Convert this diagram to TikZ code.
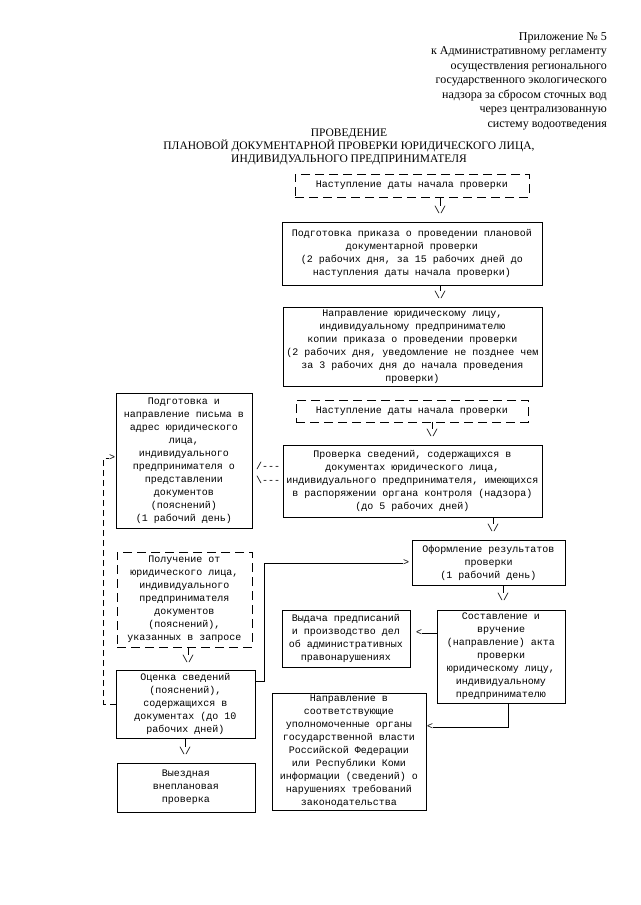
\documentclass[tikz,border=0pt]{standalone}
\usepackage{fontspec}
\setmainfont{Liberation Serif}
\newfontfamily\monofam{Liberation Mono}
\begin{document}
\begin{tikzpicture}[x=1pt,y=-1pt,
  box/.style={draw, line width=0.9pt, inner sep=0pt, align=center, font=\monofam\fontsize{10}{13}\selectfont},
  dbox/.style={box, dash pattern=on 9pt off 5pt},
  ah/.style={inner sep=0pt, font=\monofam\fontsize{10}{13}\selectfont},
  conn/.style={line width=0.9pt},
  dconn/.style={line width=0.9pt, dash pattern=on 6pt off 4pt}]
\fill[white] (0,0) rectangle (640,905);
\useasboundingbox (0,0) rectangle (640,905);

\node[anchor=north east, align=right, inner sep=0pt, font=\fontsize{12}{14.5}\selectfont] (hdr) at (607,32)
  {Приложение № 5\\к Административному регламенту\\осуществления регионального\\государственного экологического\\надзора за сбросом сточных вод\\через централизованную\\систему водоотведения};

\node[anchor=north, align=center, inner sep=0pt, font=\fontsize{11.5}{13}\selectfont] (ttl) at (349,129)
  {ПРОВЕДЕНИЕ\\ПЛАНОВОЙ ДОКУМЕНТАРНОЙ ПРОВЕРКИ ЮРИДИЧЕСКОГО ЛИЦА,\\ИНДИВИДУАЛЬНОГО ПРЕДПРИНИМАТЕЛЯ};

% boxes
\node[dbox, minimum width=234, minimum height=23] (b1) at (412,185.5) {Наступление даты начала проверки};
\node[box, minimum width=260, minimum height=63] (b2) at (412,253.5)
  {Подготовка приказа о проведении плановой\\документарной проверки\\(2 рабочих дня, за 15 рабочих дней до\\наступления даты начала проверки)};
\node[box, minimum width=259, minimum height=79] (b3) at (412.5,346.5)
  {Направление юридическому лицу,\\индивидуальному предпринимателю\\копии приказа о проведении проверки\\(2 рабочих дня, уведомление не позднее чем\\за 3 рабочих дня до начала проведения\\проверки)};
\node[dbox, minimum width=232, minimum height=22] (b4) at (412,411) {Наступление даты начала проверки};
\node[box, minimum width=259, minimum height=72] (b5) at (412.5,481)
  {Проверка сведений, содержащихся в\\документах юридического лица,\\индивидуального предпринимателя, имеющихся\\в распоряжении органа контроля (надзора)\\(до 5 рабочих дней)};
\node[box, minimum width=136, minimum height=135] (b6) at (184,460.5)
  {Подготовка и\\направление письма в\\адрес юридического\\лица,\\индивидуального\\предпринимателя о\\представлении\\документов\\(пояснений)\\(1 рабочий день)};
\node[dbox, minimum width=135, minimum height=95] (b7) at (184.5,599.5)
  {Получение от\\юридического лица,\\индивидуального\\предпринимателя\\документов\\(пояснений),\\указанных в запросе};
\node[box, minimum width=139, minimum height=68] (b8) at (185.5,704)
  {Оценка сведений\\(пояснений),\\содержащихся в\\документах (до 10\\рабочих дней)};
\node[box, minimum width=138, minimum height=49] (b9) at (186,787.5)
  {Выездная\\внеплановая\\проверка};
\node[box, minimum width=153, minimum height=45] (b10) at (488.5,562.5)
  {Оформление результатов\\проверки\\(1 рабочий день)};
\node[box, minimum width=128, minimum height=93] (b11) at (501,656.5)
  {Составление и\\вручение\\(направление) акта\\проверки\\юридическому лицу,\\индивидуальному\\предпринимателю};
\node[box, minimum width=128, minimum height=57] (b12) at (346,638.5)
  {Выдача предписаний\\и производство дел\\об административных\\правонарушениях};
\node[box, minimum width=154, minimum height=117] (b13) at (349,751.5)
  {Направление в\\соответствующие\\уполномоченные органы\\государственной власти\\Российской Федерации\\или Республики Коми\\информации (сведений) о\\нарушениях требований\\законодательства};

% text arrow heads
\node[ah] (a1) at (440,210) {\textbackslash/};
\node[ah] (a2) at (440,295) {\textbackslash/};
\node[ah] (a4) at (432,433) {\textbackslash/};
\node[ah] (a5) at (493,528) {\textbackslash/};
\node[ah] (a10) at (503,597) {\textbackslash/};
\node[ah] (a7) at (188,659) {\textbackslash/};
\node[ah] (a8) at (185,751) {\textbackslash/};
\node[ah, align=left, font=\monofam\fontsize{10}{14}\selectfont] (l5) at (268,473) {/---\\\textbackslash---};
\node[ah] (t6) at (112,458) {>};
\node[ah] (t9) at (406,563) {>};
\node[ah] (tA) at (419,633) {<};
\node[ah] (tB) at (430,727) {<};

% connectors
\draw[conn] (b1.south -| a1.north) -- (a1.north);
\draw[conn] (b2.south -| a2.north) -- (a2.north);
\draw[conn] (b4.south -| a4.north) -- (a4.north);
\draw[conn] (b5.south -| a5.north) -- (a5.north);
\draw[conn] (b10.south -| a10.north) -- (a10.north);
\draw[conn] (b7.south -| a7.north) -- (a7.north);
\draw[conn] (b8.south -| a8.north) -- (a8.north);
\draw[dconn] (b8.west) -- ++(-12,0) |- (t6.west);
\draw[conn] ([yshift=23pt]b8.east) -- ++(9,0) |- (t9.west);
\draw[conn] (tA.east) -- (tA.east -| b11.west);
\draw[conn] ([xshift=7pt]b11.south) |- (tB.east);
\end{tikzpicture}
\end{document}
